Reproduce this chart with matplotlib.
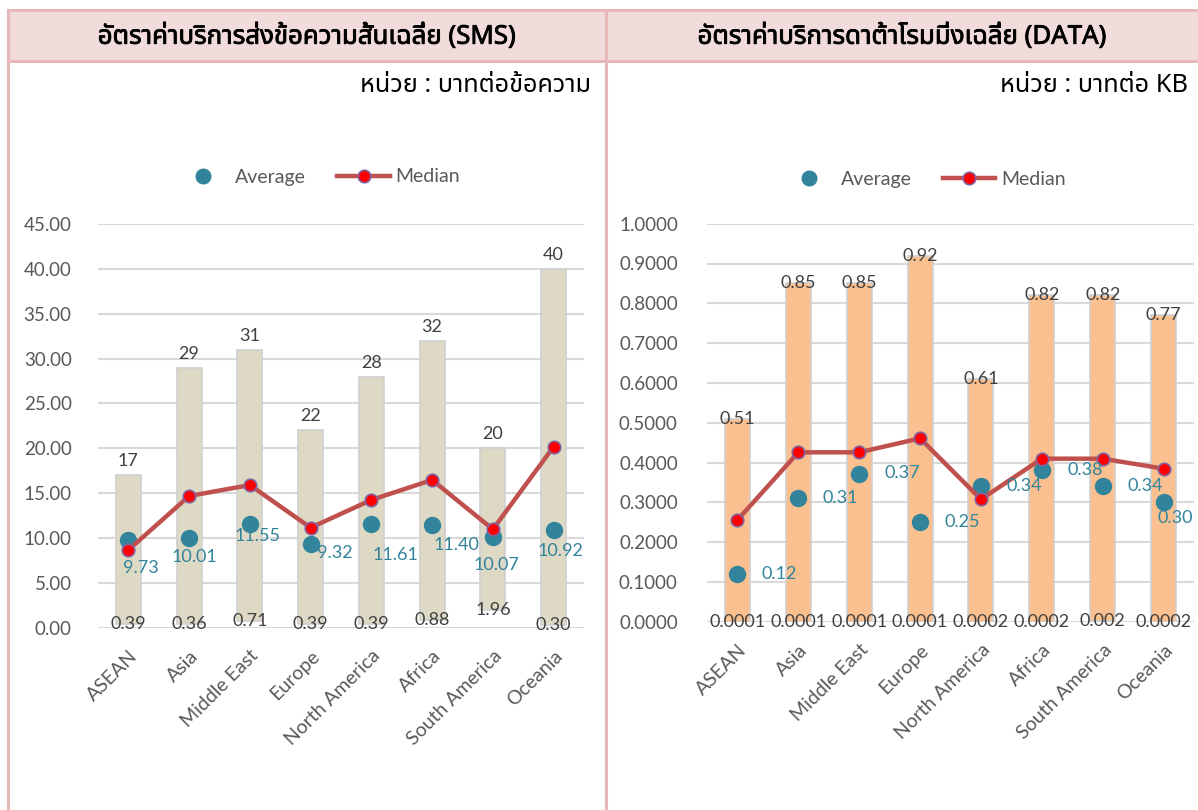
import matplotlib
matplotlib.use('Agg')
import matplotlib.pyplot as plt
import matplotlib.patheffects as pe
from matplotlib import font_manager
from matplotlib.ft2font import FT2Font
from matplotlib.lines import Line2D
from matplotlib.patches import Rectangle

# ---- data ----
regions = ['ASEAN', 'Asia', 'Middle East', 'Europe', 'North America',
           'Africa', 'South America', 'Oceania']

sms_max = [17, 29, 31, 22, 28, 32, 20, 40]
sms_min = [0.39, 0.36, 0.71, 0.39, 0.39, 0.88, 1.96, 0.30]
sms_avg = [9.73, 10.01, 11.55, 9.32, 11.61, 11.40, 10.07, 10.92]
sms_median = [8.66, 14.68, 15.90, 11.15, 14.24, 16.47, 10.97, 20.18]

data_max = [0.51, 0.85, 0.85, 0.92, 0.61, 0.82, 0.82, 0.77]
data_min = [0.0001, 0.0001, 0.0001, 0.0001, 0.0002, 0.0002, 0.002, 0.0002]
data_avg = [0.12, 0.31, 0.37, 0.25, 0.34, 0.38, 0.34, 0.30]
data_median = [0.2555, 0.4256, 0.4256, 0.4607, 0.3075, 0.4096, 0.4096, 0.3845]

title_sms = 'อัตราค่าบริการส่งข้อความสั้นเฉลี่ย (SMS)'
title_data = 'อัตราค่าบริการดาต้าโรมมิ่งเฉลี่ย (DATA)'
unit_sms = 'หน่วย : บาทต่อข้อความ'
unit_data = 'หน่วย : บาทต่อ KB'

# label offsets (pixels, right / down) for the average labels
sms_avg_off = [(12, 28), (5, 19), (8, 12), (24, 9), (24, 31), (24, 20), (4, 28), (7, 21)]
data_avg_off = [(42, 0), (42, 0), (43, -1), (42, 0), (43, 0), (43, 0), (43, 0), (12, 16)]


def find_thai_font():
    wanted = ['Leelawadee UI', 'Leelawadee', 'Tahoma', 'Noto Sans Thai', 'Noto Sans Thai UI',
              'Sarabun', 'Loma', 'Garuda', 'Waree', 'Umpush', 'Kinnari', 'Norasi',
              'Laksaman', 'Sawasdee', 'Tlwg Typo']
    names = {f.name for f in font_manager.fontManager.ttflist}
    for n in wanted:
        if n in names:
            return n
    for f in font_manager.fontManager.ttflist:
        try:
            if 0x0E01 in FT2Font(f.fname).get_charmap():
                return f.name
        except Exception:
            pass
    return 'DejaVu Sans'


THAI = find_thai_font()
plt.rcParams['font.family'] = ['Lato', 'DejaVu Sans']

W, H = 1198, 810
fig = plt.figure(figsize=(W / 100, H / 100), dpi=100)

BORDER = '#E6B9B8'
GRID = '#D9D9D9'
TICK = '#595959'
LABEL = '#404040'
TEAL = '#31849B'
LINE_RED = '#C0504D'


def fx(x):
    return x / W


def fy(y):
    return 1 - y / H


# header band and table borders
fig.add_artist(Rectangle((fx(8), fy(61)), fx(W - 8), 51 / H, transform=fig.transFigure,
                         facecolor='#F2DCDB', edgecolor='none', zorder=0))
for xs, ys in [((8, W), (10, 10)), ((8, W), (61, 61)), ((8, 8), (10, H)), ((606, 606), (10, H))]:
    fig.add_artist(Line2D([fx(xs[0]), fx(xs[1])], [fy(ys[0]), fy(ys[1])],
                          transform=fig.transFigure, color=BORDER, lw=2.2, zorder=1))

thai_fam = [THAI, 'Lato', 'DejaVu Sans']
bold_fx = [pe.withStroke(linewidth=0.6, foreground='black')]
fig.text(fx(307), fy(36), title_sms, ha='center', va='center', fontsize=18.6,
         fontweight='bold', family=thai_fam, color='black', path_effects=bold_fx)
fig.text(fx(902), fy(36), title_data, ha='center', va='center', fontsize=18.6,
         fontweight='bold', family=thai_fam, color='black', path_effects=bold_fx)
fig.text(fx(591), fy(85), unit_sms, ha='right', va='center', fontsize=18.2,
         family=thai_fam, color='black')
fig.text(fx(1188), fy(86), unit_data, ha='right', va='center', fontsize=18.2,
         family=thai_fam, color='black')


def draw_panel(rect, vmax, vmin, vavg, vmed, ylim, yticks, yfmt, bar_color,
               max_fmt, min_fmt, max_dy, avg_off, legend_x, legend_y, tick_pad):
    ax = fig.add_axes(rect)
    x = list(range(len(regions)))
    heights = [a - b for a, b in zip(vmax, vmin)]
    ax.bar(x, heights, bottom=vmin, width=0.41, color=bar_color,
           edgecolor='#D0D0D0', linewidth=1.2, zorder=2)
    ax.plot(x, vmed, color=LINE_RED, lw=3.2, marker='o', markersize=9,
            markerfacecolor='#FF0000', markeredgecolor='#8064A2', markeredgewidth=1.2, zorder=4)
    ax.plot(x, vavg, linestyle='none', marker='o', markersize=11.5,
            color=TEAL, markeredgecolor=TEAL, zorder=3)

    for i in x:
        ax.annotate(max_fmt.format(vmax[i]), (i, vmax[i]), xytext=(0, max_dy),
                    textcoords='offset pixels', ha='center', va='center',
                    fontsize=13, color=LABEL, zorder=6)
        ax.annotate(min_fmt.format(vmin[i]), (i, vmin[i]), xytext=(0, 0),
                    textcoords='offset pixels', ha='center', va='center',
                    fontsize=13, color=LABEL, zorder=6)
        dx, dy = avg_off[i]
        ax.annotate('{:.2f}'.format(vavg[i]), (i, vavg[i]), xytext=(dx, -dy),
                    textcoords='offset pixels', ha='center', va='center',
                    fontsize=13, color=TEAL, zorder=6)

    ax.set_xlim(-0.5, len(regions) - 0.5)
    ax.set_ylim(*ylim)
    ax.set_yticks(yticks)
    ax.set_yticklabels([yfmt.format(v) for v in yticks])
    ax.set_xticks(x)
    ax.set_xticklabels(regions, rotation=45, ha='right', rotation_mode='anchor')
    ax.tick_params(axis='x', length=0, pad=14, labelsize=14, labelcolor=TICK)
    ax.tick_params(axis='y', length=0, pad=tick_pad, labelsize=13.5, labelcolor=TICK)
    for s in ax.spines.values():
        s.set_visible(False)
    ax.yaxis.grid(True, color=GRID, lw=1.5)
    ax.set_axisbelow(True)
    ax.set_facecolor('none')

    handles = [
        Line2D([], [], linestyle='none', marker='o', markersize=10.5, color=TEAL),
        Line2D([], [], color=LINE_RED, lw=3.2, marker='o', markersize=9,
               markerfacecolor='#FF0000', markeredgecolor='#8064A2', markeredgewidth=1.2),
    ]
    ax.legend(handles, ['Average', 'Median'], loc='center', ncol=2, frameon=False,
              bbox_to_anchor=(legend_x, legend_y), fontsize=14, labelcolor=TICK,
              handlelength=2.7, handletextpad=0.3, columnspacing=1.6, numpoints=1)
    return ax


draw_panel([fx(98), fy(627.7), fx(486), (627.7 - 224) / H],
           sms_max, sms_min, sms_avg, sms_median,
           (0, 45), [0, 5, 10, 15, 20, 25, 30, 35, 40, 45], '{:.2f}', '#DDD9C4',
           '{:d}', '{:.2f}', 14, sms_avg_off, 0.454, 1.0 + 47 / 403.7, 19)

draw_panel([fx(707), fy(621.7), fx(487), (621.7 - 223.7) / H],
           data_max, data_min, data_avg, data_median,
           (0, 1.0), [0, 0.1, 0.2, 0.3, 0.4, 0.5, 0.6, 0.7, 0.8, 0.9, 1.0], '{:.4f}', '#FAC090',
           '{:.2f}', '{:g}', 0, data_avg_off, 0.446, 1.0 + 44 / 398, 21)

fig.savefig('out.png', dpi=100)
